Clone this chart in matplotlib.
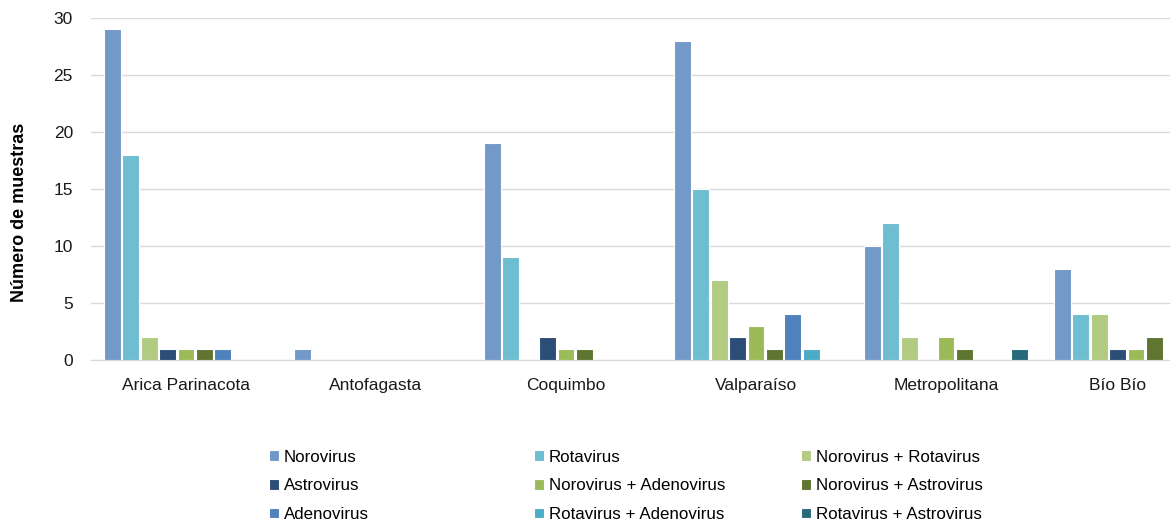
import numpy as np
import matplotlib.pyplot as plt
import matplotlib.transforms as mtransforms

plt.rcParams['font.family'] = ['Liberation Sans', 'DejaVu Sans']

regiones = ["Arica Parinacota", "Antofagasta", "Coquimbo", "Valparaíso", "Metropolitana", "Bío Bío"]

virus = ["Norovirus", "Rotavirus", "Norovirus + Rotavirus",
         "Astrovirus", "Norovirus + Adenovirus", "Norovirus + Astrovirus",
         "Adenovirus", "Rotavirus + Adenovirus", "Rotavirus + Astrovirus"]

# muestras por region, una lista por virus
norovirus = [29, 1, 19, 28, 10, 8]
rotavirus = [18, 0, 9, 15, 12, 4]
noro_rota = [2, 0, 0, 7, 2, 4]
astrovirus = [1, 0, 2, 2, 0, 1]
noro_adeno = [1, 0, 1, 3, 2, 1]
noro_astro = [1, 0, 1, 1, 1, 2]
adenovirus = [1, 0, 0, 4, 0, 0]
rota_adeno = [0, 0, 0, 1, 0, 0]
rota_astro = [0, 0, 0, 0, 1, 0]

series = [norovirus, rotavirus, noro_rota, astrovirus, noro_adeno,
          noro_astro, adenovirus, rota_adeno, rota_astro]

colores = ["#7399C9", "#6FBDD1", "#B1CB80", "#2C4D75", "#9BBB59",
           "#5F7530", "#4F81BD", "#4BACC6", "#276A7C"]

fig = plt.figure(figsize=(11.7, 5.22), dpi=100)
# the plot area runs past the right edge on purpose (last group is cut)
ax = fig.add_axes([91/1170, 162/522, 1140/1170, 342/522])

x = np.arange(len(regiones))
slot = 18.4/190
handles = []
for i, (vals, c) in enumerate(zip(series, colores)):
    pos = x + (i - 4)*slot
    b = ax.bar(pos, vals, width=slot*0.92, color=c, edgecolor="white",
               linewidth=0.8, label=virus[i], zorder=3)
    handles.append(b)

ax.set_xlim(-0.5, len(regiones) - 0.5)
ax.set_ylim(0, 30)
ax.set_yticks(range(0, 31, 5))
ax.yaxis.grid(True, color="#D9D9D9", linewidth=1, zorder=0)
ax.set_axisbelow(True)
for s in ["top", "right", "left"]:
    ax.spines[s].set_visible(False)
ax.spines["bottom"].set_color("#D9D9D9")
ax.tick_params(length=0, labelsize=12.5, colors="#1a1a1a")
ax.tick_params(axis="y", pad=13)
ax.tick_params(axis="x", pad=13)
ax.set_xticks(x)
ax.set_xticklabels(regiones)
ax.set_ylabel("Número de muestras", fontsize=13, fontweight="bold")
ax.yaxis.set_label_coords(-0.055, 0.433)

# last label pulled left so it stays inside the figure
lbl = ax.get_xticklabels()[-1]
lbl.set_transform(lbl.get_transform() + mtransforms.ScaledTranslation(-0.18, 0, fig.dpi_scale_trans))

# legend: one column per block, placed side by side
col_x = [262, 527, 794]
for j in range(3):
    idx = [j, j + 3, j + 6]
    fig.legend([handles[k] for k in idx], [virus[k] for k in idx],
               loc="upper left", bbox_to_anchor=(col_x[j]/1170, 1 - 443/522),
               frameon=False, fontsize=12.2, handlelength=0.6, handleheight=0.6,
               handletextpad=0.3, labelspacing=0.8, borderaxespad=0)

fig.savefig("out.png", dpi=100)
